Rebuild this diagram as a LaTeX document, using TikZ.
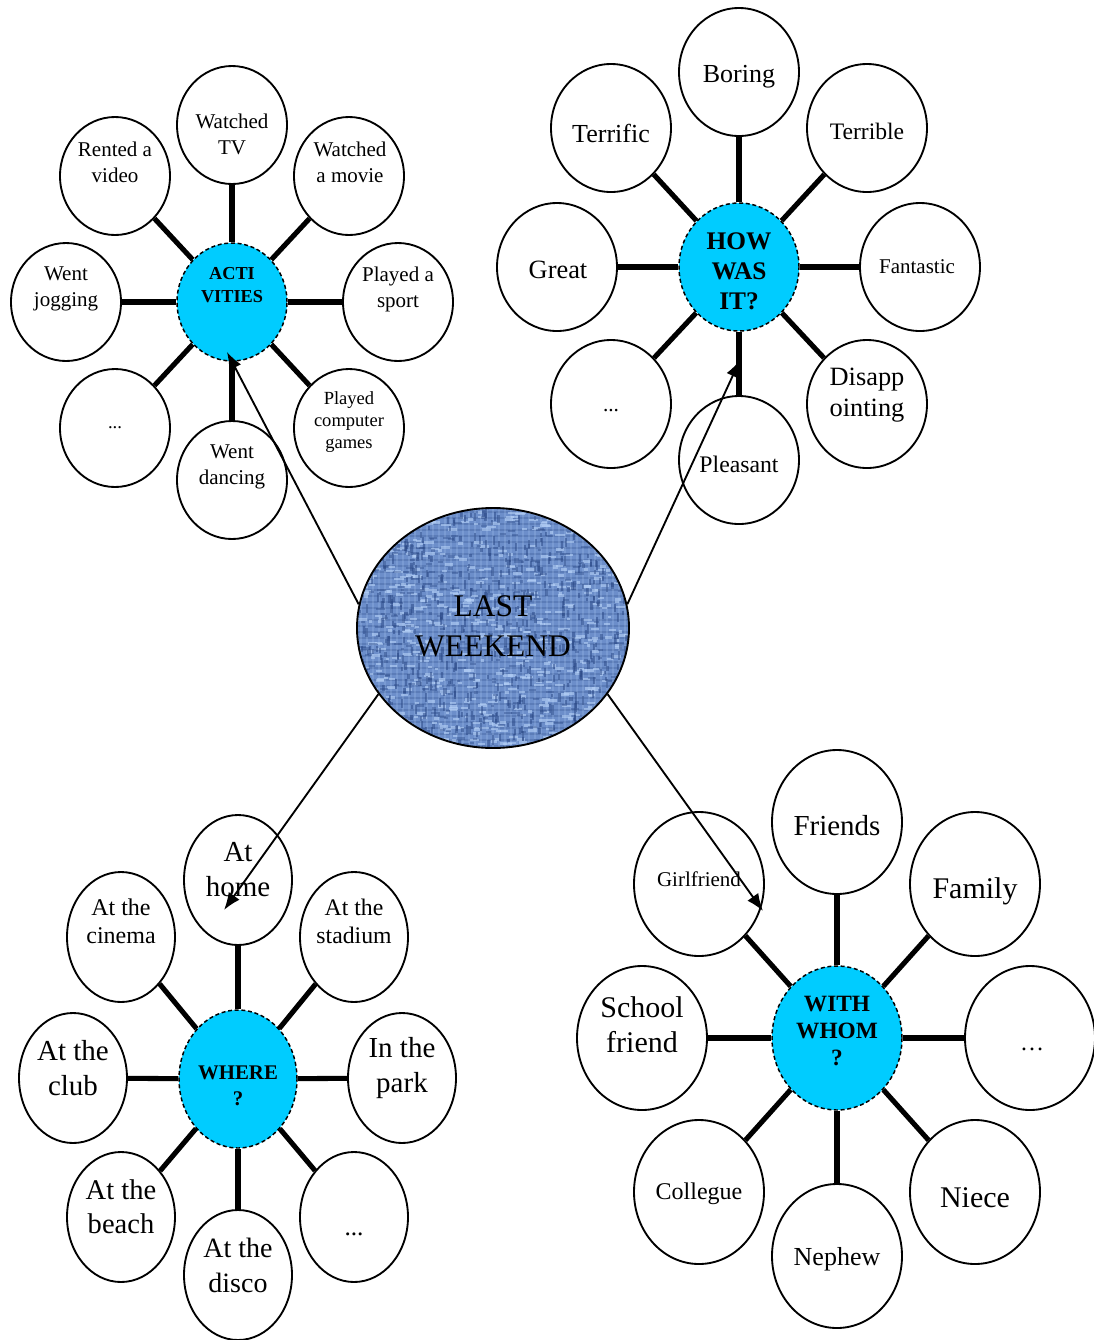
\documentclass[tikz,border=0pt]{standalone}
\usepackage{fontspec}
\setmainfont{Liberation Serif}
\usetikzlibrary{arrows.meta,shapes.geometric}
\definecolor{hubcyan}{RGB}{0,204,255}
\definecolor{denim}{RGB}{108,142,202}
\definecolor{denimdark}{RGB}{42,72,134}
\definecolor{denimlight}{RGB}{182,210,248}
\newcommand\fsz[2]{\fontsize{#1}{#2}\selectfont}
\begin{document}
\begin{tikzpicture}[x=0.75pt,y=-0.75pt,
  ell/.style={ellipse,draw,line width=1.4pt,fill=white,inner sep=0pt},
  satA/.style={ell,minimum width=82.5pt,minimum height=88.5pt},
  satH/.style={ell,minimum width=90pt,minimum height=96pt},
  satW/.style={ell,minimum width=81pt,minimum height=97.5pt},
  satM/.style={ell,minimum width=97.5pt,minimum height=108pt},
  hub/.style={ellipse,draw,dashed,dash pattern=on 3pt off 2pt,line width=1.1pt,fill=hubcyan,inner sep=0pt},
  spoke/.style={line width=3.8pt},
  lbl/.style={align=center,inner sep=0pt},
  arr/.style={line width=1.4pt,-{Latex[length=13pt,width=10pt]}}]
\useasboundingbox (0,0) rectangle (1094,1340);

% ---------- centre ellipse texture ----------
\begin{scope}
  \clip (493,628) ellipse [x radius=136, y radius=120];
  \fill[denim] (350,500) rectangle (640,760);
  \foreach \k in {0,...,40}{
    \draw[denimdark,line width=1.1pt,opacity=.25] (355,{506+6*\k}) -- (635,{506+6*\k});
  }
  \foreach \k in {0,...,46}{
    \draw[denimlight,line width=1.0pt,opacity=.2] ({355+6*\k},505) -- ({355+6*\k},752);
  }
  \pgfmathsetseed{17}
  \foreach \i in {1,...,650}{
    \pgfmathsetmacro\rx{357+272*rnd}
    \pgfmathsetmacro\ry{508+240*rnd}
    \pgfmathsetmacro\ln{3+7*rnd}
    \draw[denimlight,line width=1.8pt,opacity=.6] (\rx,\ry) -- ++(\ln,0);
  }
  \foreach \i in {1,...,650}{
    \pgfmathsetmacro\rx{357+272*rnd}
    \pgfmathsetmacro\ry{508+240*rnd}
    \pgfmathsetmacro\ln{3+7*rnd}
    \draw[denimdark,line width=1.7pt,opacity=.5] (\rx,\ry) -- ++(0,\ln);
  }
  \foreach \i in {1,...,300}{
    \pgfmathsetmacro\rx{357+272*rnd}
    \pgfmathsetmacro\ry{508+240*rnd}
    \pgfmathsetmacro\ln{3+6*rnd}
    \draw[denimdark,line width=1.6pt,opacity=.4] (\rx,\ry) -- ++(\ln,0);
  }
\end{scope}
\node[ellipse,draw,line width=1.4pt,inner sep=0pt,minimum width=204pt,minimum height=180pt] (last) at (493,628) {};
\node[lbl,font={\fsz{23.6pt}{30pt}}] (tlast) at (493,626) {LAST\\WEEKEND};

% ---------- ACTIVITIES ----------
\node[hub,minimum width=82.5pt,minimum height=88.5pt] (hA) at (232,302) {};
\node[satA] (a1) at (232,125) {};
\node[satA] (a2) at (115,176) {};
\node[satA] (a3) at (349,176) {};
\node[satA] (a4) at (66,302) {};
\node[satA] (a5) at (398,302) {};
\node[satA] (a6) at (115,428) {};
\node[satA] (a7) at (232,480) {};
\node[satA] (a8) at (349,428) {};
\foreach \s in {a1,a2,a3,a4,a5,a6,a7,a8}{\draw[spoke] (hA) -- (\s);}
\begin{scope}[every node/.style={lbl,font={\fsz{15.75pt}{19.5pt}}}]
\node (ta1) at (232,134) {Watched\\TV};
\node (ta2) at (115,162) {Rented a\\video};
\node (ta3) at (350,162) {Watched\\a movie};
\node (ta4) at (66,289) {Went\\jogging};
\node (ta5) at (398,289) {Played a\\sport};
\node[font={\fsz{14pt}{17pt}}] (ta6) at (115,428) {...};
\node (ta7) at (232,467) {Went\\dancing};
\node[font={\fsz{13.9pt}{16.5pt}}] (ta8) at (349,422) {Played\\computer\\games};
\node[font={\fsz{13.7pt}{17.25pt}\bfseries}] (thA) at (232,285) {ACTI\\VITIES};
\end{scope}

% ---------- HOW WAS IT ----------
\node[hub,minimum width=90pt,minimum height=96pt] (hH) at (739,267) {};
\node[satH] (h1) at (739,72) {};
\node[satH] (h2) at (611,128) {};
\node[satH] (h3) at (867,128) {};
\node[satH] (h4) at (557,267) {};
\node[satH] (h5) at (920,267) {};
\node[satH] (h6) at (611,404) {};
\node[satH] (h7) at (867,404) {};
\node[satH] (h8) at (739,460) {};
\foreach \s in {h1,h2,h3,h4,h5,h6,h7,h8}{\draw[spoke] (hH) -- (\s);}
\node[lbl,font={\fsz{19.5pt}{23pt}}] (th1) at (739,77) {Boring};
\node[lbl,font={\fsz{19.5pt}{23pt}}] (th2) at (611,133) {Terrific};
\node[lbl,font={\fsz{17.7pt}{21pt}}] (th3) at (867,131) {Terrible};
\node[lbl,font={\fsz{19.8pt}{23pt}}] (th4) at (558,270) {Great};
\node[lbl,font={\fsz{15.75pt}{19pt}}] (th5) at (917,267) {Fantastic};
\node[lbl,font={\fsz{16pt}{19pt}}] (th6) at (611,411) {...};
\node[lbl,font={\fsz{19.8pt}{23.25pt}}] (th7) at (867,395) {Disapp\\ointing};
\node[lbl,font={\fsz{17.8pt}{21pt}}] (th8) at (739,464) {Pleasant};
\node[lbl,font={\fsz{19pt}{22.5pt}\bfseries}] (thH) at (739,271) {HOW\\WAS\\IT?};

% ---------- WHERE ----------
\node[hub,minimum width=88.5pt,minimum height=103.5pt] (hW) at (238,1079) {};
\node[satW] (w1) at (238,880) {};
\node[satW] (w2) at (121,937) {};
\node[satW] (w3) at (354,937) {};
\node[satW] (w4) at (73,1078) {};
\node[satW] (w5) at (402,1078) {};
\node[satW] (w6) at (121,1217) {};
\node[satW] (w7) at (238,1275) {};
\node[satW] (w8) at (354,1217) {};
\foreach \s in {w1,w2,w3,w4,w5,w6,w7,w8}{\draw[spoke] (hW) -- (\s);}
\node[lbl,font={\fsz{21.75pt}{26.25pt}}] (tw1) at (238,870) {At\\home};
\node[lbl,font={\fsz{18pt}{21pt}}] (tw2) at (121,921) {At the\\cinema};
\node[lbl,font={\fsz{17.8pt}{21pt}}] (tw3) at (354,921) {At the\\stadium};
\node[lbl,font={\fsz{21.75pt}{26.25pt}}] (tw4) at (73,1068) {At the\\club};
\node[lbl,font={\fsz{21.75pt}{26.25pt}}] (tw5) at (402,1068) {In the\\park};
\node[lbl,font={\fsz{21.4pt}{25.5pt}}] (tw6) at (121,1207) {At the\\beach};
\node[lbl,font={\fsz{21pt}{26.25pt}}] (tw7) at (238,1265) {At the\\disco};
\node[lbl,font={\fsz{19pt}{22pt}}] (tw8) at (354,1234) {...};
\node[lbl,font={\fsz{15.6pt}{19.5pt}\bfseries}] (thW) at (238,1086) {WHERE\\?};

% ---------- WITH WHOM ----------
\node[hub,minimum width=97.5pt,minimum height=108pt] (hM) at (837,1038) {};
\node[satM] (m1) at (837,822) {};
\node[satM] (m2) at (699,884) {};
\node[satM] (m3) at (975,884) {};
\node[satM] (m4) at (642,1038) {};
\node[satM] (m5) at (1030,1038) {};
\node[satM] (m6) at (699,1192) {};
\node[satM] (m7) at (975,1192) {};
\node[satM] (m8) at (837,1256) {};
\foreach \s in {m1,m2,m3,m4,m5,m6,m7,m8}{\draw[spoke] (hM) -- (\s);}
\node[lbl,font={\fsz{21.75pt}{26pt}}] (tm1) at (837,826) {Friends};
\node[lbl,font={\fsz{15.75pt}{19pt}}] (tm2) at (699,879) {Girlfriend};
\node[lbl,font={\fsz{22.5pt}{26pt}}] (tm3) at (975,891) {Family};
\node[lbl,font={\fsz{22.5pt}{26.25pt}}] (tm4) at (642,1025) {School\\friend};
\node[lbl,font={\fsz{18pt}{21pt}}] (tm5) at (1032,1049) {…};
\node[lbl,font={\fsz{18pt}{21pt}}] (tm6) at (699,1194) {Collegue};
\node[lbl,font={\fsz{22.5pt}{26pt}}] (tm7) at (975,1198) {Niece};
\node[lbl,font={\fsz{19.5pt}{23pt}}] (tm8) at (837,1259) {Nephew};
\node[lbl,font={\fsz{17.5pt}{20.25pt}\bfseries}] (thM) at (837,1031) {WITH\\WHOM\\?};

% ---------- arrows ----------
\coordinate (tipA) at (227,352);
\coordinate (tipH) at (740,360);
\coordinate (tipW) at (224,910);
\coordinate (tipM) at (763,911);
\draw[arr] (last.170) -- (tipA);
\draw[arr] (last.10) -- (tipH);
\draw[arr] (last.210) -- (tipW);
\draw[arr] (last.330) -- (tipM);
\end{tikzpicture}
\end{document}
